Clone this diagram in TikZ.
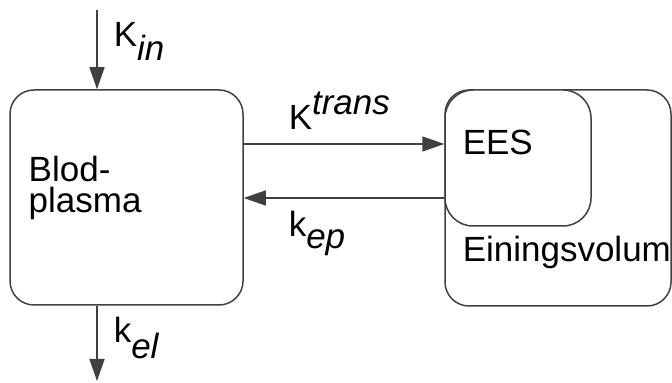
\documentclass[tikz,border=0pt]{standalone}
\usepackage{fontspec}
\setmainfont{Liberation Sans}
\usetikzlibrary{arrows.meta}
\begin{document}
\begin{tikzpicture}[x=0.5pt,y=-0.5pt,
  line width=0.75pt,
  compartment/.style={draw=black!75, rounded corners=12pt, inner sep=0pt},
  flow/.style={draw=black!75, -{Triangle[length=11pt,width=7.5pt]}},
  lbl/.style={anchor=base west, inner sep=0pt, font=\fontsize{17.5}{20}\selectfont}]
\useasboundingbox (0,0) rectangle (672,383);
% plasma compartment
\node[compartment, minimum width=116.5pt, minimum height=107.5pt] (lb) at (126.5,197.5) {};
% extravascular extracellular space inside the unit volume
\node[compartment, minimum width=113pt, minimum height=108pt] (ob) at (558,198) {};
\node[compartment, fill=white, rounded corners=14pt, minimum width=73pt, minimum height=68pt,
      anchor=north west] (ees) at (ob.north west) {};
% texts
\node[lbl] (blod) at (28,182) {Blod-};
\node[lbl] (plasma) at (28,213) {plasma};
\node[lbl] (eestxt) at (462,155) {EES};
\node[lbl] (vol) at (462,262) {Einingsvolum};
% in- and outflow
\coordinate (inTop) at (97,10);
\coordinate (outEnd) at (97,381);
\draw[flow] (inTop) -- (inTop |- lb.north);
\draw[flow] (outEnd |- lb.south) -- (outEnd);
\node[lbl] (kin) at (113,47) {K\raisebox{-7pt}{\itshape in}};
\node[lbl] (kel) at (113,343) {k\raisebox{-8pt}{\itshape el}};
% exchange between plasma and EES
\coordinate (trY) at (344,144);
\coordinate (epY) at (344,198);
\draw[flow] (lb.east |- trY) -- (ees.west |- trY);
\draw[flow] (ees.west |- epY) -- (lb.east |- epY);
\node[lbl] (ktrans) at (288,130) {K\raisebox{7.5pt}{\itshape trans}};
\node[lbl] (kep) at (288,237) {k\raisebox{-6pt}{\itshape ep}};
\end{tikzpicture}
\end{document}
